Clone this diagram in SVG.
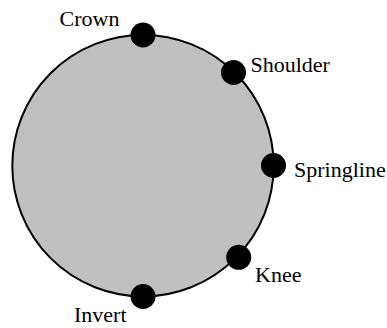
<svg xmlns="http://www.w3.org/2000/svg" width="387" height="328" viewBox="0 0 387 328">
<style>
text{font-size:22px;fill:#000}
.a{font-family:'Liberation Serif',serif}
.pt{fill:#000}
</style>
<rect width="387" height="328" fill="#fff"/>
<g id="pipe"><circle cx="143" cy="165.7" r="130.7" fill="#c0c0c0" stroke="#000" stroke-width="2"/></g>
<g id="crown"><circle class="pt" cx="143" cy="35" r="12.5"/><text class="a" x="59.5" y="25.7">Crown</text></g>
<g id="shoulder"><circle class="pt" cx="233.5" cy="72.5" r="12.5"/><text class="a" x="250.5" y="71.7">Shoulder</text></g>
<g id="springline"><circle class="pt" cx="273.5" cy="165.5" r="12.5"/><text class="a" x="294" y="176.7">Springline</text></g>
<g id="knee"><circle class="pt" cx="238.7" cy="257.3" r="12.5"/><text class="a" x="255" y="281.7">Knee</text></g>
<g id="invert"><circle class="pt" cx="143" cy="296.5" r="12.5"/><text class="a" x="74" y="321.7">Invert</text></g>
</svg>
